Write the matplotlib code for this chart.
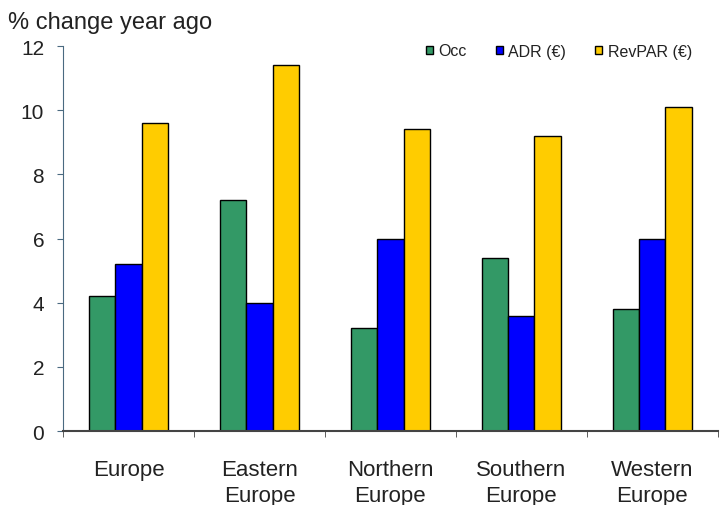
import numpy as np
import matplotlib.pyplot as plt
from matplotlib.ticker import FixedLocator

plt.rcParams['font.family'] = ['Liberation Sans', 'DejaVu Sans']

regions = ['Europe', 'Eastern\nEurope', 'Northern\nEurope', 'Southern\nEurope', 'Western\nEurope']
occ = [4.2, 7.2, 3.2, 5.4, 3.8]
adr = [5.2, 4.0, 6.0, 3.6, 6.0]
revpar = [9.6, 11.4, 9.4, 9.2, 10.1]
series = ['Occ', 'ADR (€)', 'RevPAR (€)']
colors = ['#339966', '#0000FF', '#FFCC00']

txt = '#222222'
fig = plt.figure(figsize=(7.2, 5.06), dpi=100)
ax = fig.add_axes([0.0875, 0.146, 0.9095, 0.761])

x = np.arange(len(regions))
w = 0.2
for i, (vals, lab, c) in enumerate(zip([occ, adr, revpar], series, colors)):
    ax.bar(x + (i - 1) * w, vals, w, color=c, edgecolor='black', linewidth=1, label=lab)

ax.set_xlim(-0.5, len(regions) - 0.5)
ax.set_ylim(0, 12)
ax.set_yticks(range(0, 13, 2))
ax.set_xticks(x)
ax.set_xticklabels(regions, fontsize=16, linespacing=1.3, color=txt)
ax.tick_params(axis='x', which='major', length=0, pad=20)
ax.xaxis.set_minor_locator(FixedLocator(np.arange(-0.5, len(regions), 1)))
ax.tick_params(axis='x', which='minor', length=4, direction='out', color='#444444')
ax.tick_params(axis='y', labelsize=15, length=4.5, direction='out', color='#4a6a80',
               pad=9, labelcolor=txt)

ax.spines['top'].set_visible(False)
ax.spines['right'].set_visible(False)
ax.spines['left'].set_color('#4a6a80')
ax.spines['bottom'].set_color('#444444')
ax.spines['bottom'].set_linewidth(1.5)

ax.legend(loc='center right', ncol=3, frameon=False, fontsize=11.5,
          handlelength=0.45, handleheight=0.45, handletextpad=0.35, columnspacing=1.8,
          borderpad=0, borderaxespad=0, labelcolor=txt,
          bbox_to_anchor=(692 / 720, 1 - 52 / 506), bbox_transform=fig.transFigure)

fig.text(0.011, 0.955, '% change year ago', fontsize=17, ha='left', va='center', color=txt)

fig.savefig('out.png', dpi=100)
